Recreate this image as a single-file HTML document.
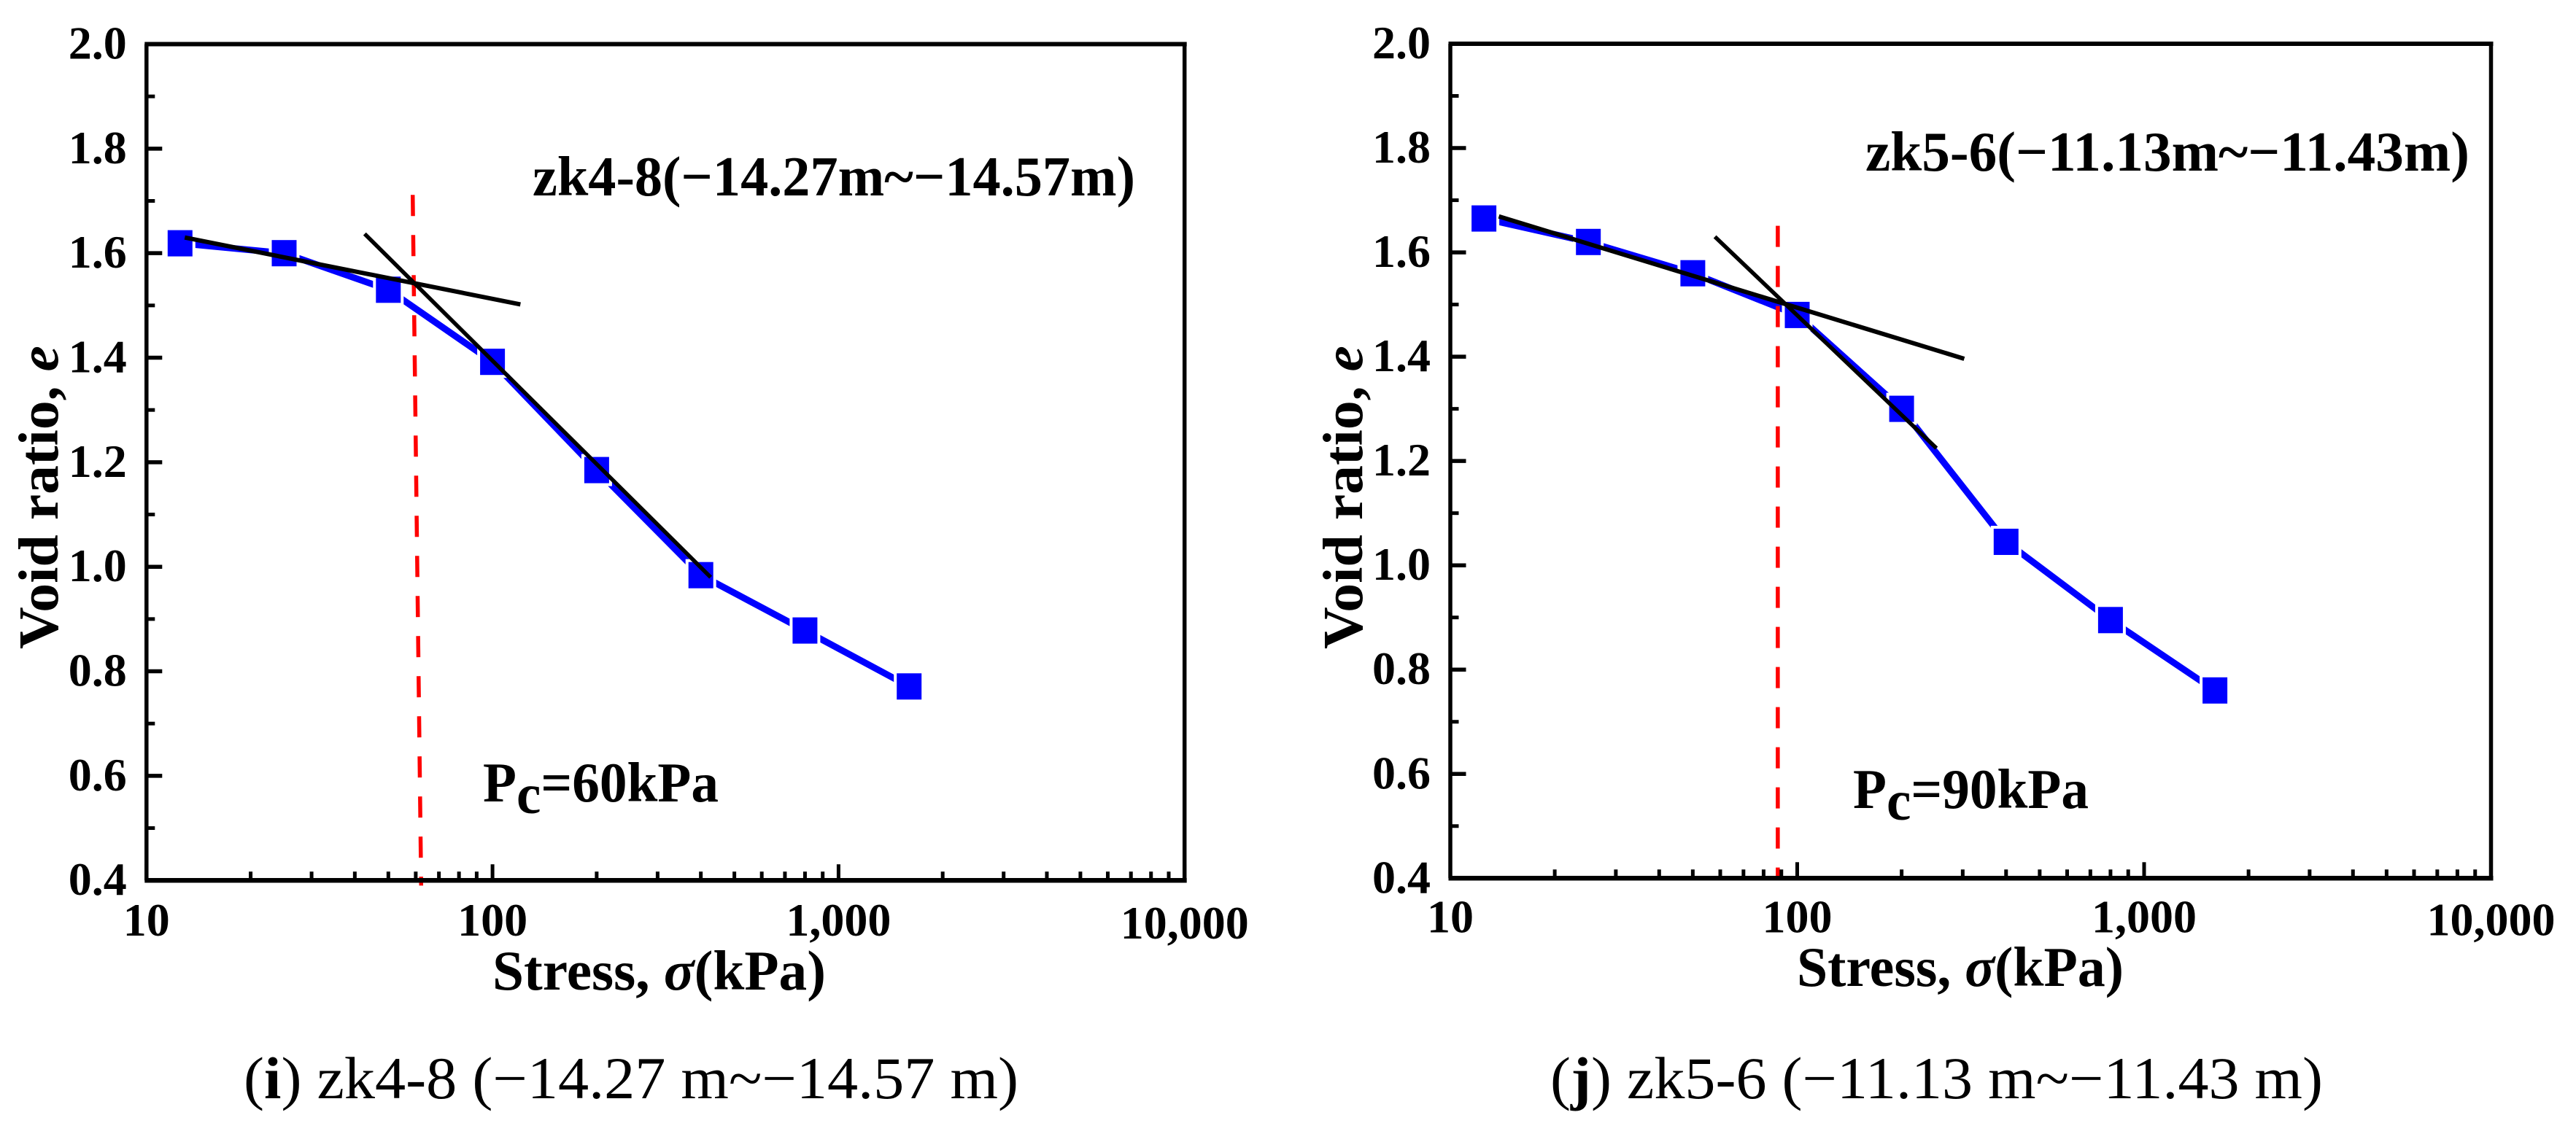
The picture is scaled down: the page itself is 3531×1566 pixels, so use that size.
<!DOCTYPE html>
<html lang="en">
<head>
<meta charset="utf-8">
<title>Void ratio versus stress curves</title>
<style>
  html, body { margin: 0; padding: 0; background: #fff; }
  svg { display: block; }
  text { font-family: "Liberation Serif", "Times New Roman", serif; fill: #000; }
  .tick { font-size: 64px; font-weight: bold; }
  .title { font-size: 77px; font-weight: bold; }
  .note { font-size: 77px; font-weight: bold; }
  .caption { font-size: 82px; }
</style>
</head>
<body>
<svg id="figure" xmlns="http://www.w3.org/2000/svg" width="3531" height="1566" viewBox="0 0 3531 1566">
  <rect x="0" y="0" width="3531" height="1566" fill="#fff"/>

  <g id="chart-i"></g>
  <g id="chart-j"></g>

  <text class="title" transform="translate(79,890) rotate(-90)" textLength="416" lengthAdjust="spacingAndGlyphs">Void ratio, <tspan font-style="italic">e</tspan></text>
  <text class="title" x="675" y="1357" textLength="457" lengthAdjust="spacingAndGlyphs">Stress, <tspan font-style="italic">σ</tspan>(kPa)</text>
  <text class="note" x="730" y="268" textLength="826" lengthAdjust="spacingAndGlyphs">zk4-8(−14.27m~−14.57m)</text>
  <text class="note" x="662" y="1099" textLength="323" lengthAdjust="spacingAndGlyphs">P<tspan dy="16">c</tspan><tspan dy="-16">=60kPa</tspan></text>
  <text class="caption" x="334" y="1506" textLength="1062" lengthAdjust="spacingAndGlyphs">(<tspan font-weight="bold">i</tspan>) zk4-8 (−14.27 m~−14.57 m)</text>

  <text class="title" transform="translate(1867,890) rotate(-90)" textLength="416" lengthAdjust="spacingAndGlyphs">Void ratio, <tspan font-style="italic">e</tspan></text>
  <text class="title" x="2463" y="1352" textLength="448" lengthAdjust="spacingAndGlyphs">Stress, <tspan font-style="italic">σ</tspan>(kPa)</text>
  <text class="note" x="2557" y="234" textLength="828" lengthAdjust="spacingAndGlyphs">zk5-6(−11.13m~−11.43m)</text>
  <text class="note" x="2540" y="1108" textLength="323" lengthAdjust="spacingAndGlyphs">P<tspan dy="16">c</tspan><tspan dy="-16">=90kPa</tspan></text>
  <text class="caption" x="2125" y="1506" textLength="1059" lengthAdjust="spacingAndGlyphs">(<tspan font-weight="bold">j</tspan>) zk5-6 (−11.13 m~−11.43 m)</text>
</svg>

<script>
// Shared axis data
const stressLevels = [12.5, 25, 50, 100, 200, 400, 800, 1600];
const xTickValues = [10, 100, 1000, 10000];
const xTickLabels = ['10', '100', '1,000', '10,000'];
const xMinorMultipliers = [2, 3, 4, 5, 6, 7, 8, 9];
const yTickValues = [0.4, 0.6, 0.8, 1.0, 1.2, 1.4, 1.6, 1.8, 2.0];
const yTickLabels = ['0.4', '0.6', '0.8', '1.0', '1.2', '1.4', '1.6', '1.8', '2.0'];
const yMinorValues = [0.5, 0.7, 0.9, 1.1, 1.3, 1.5, 1.7, 1.9];

// Chart (i) zk4-8
const voidRatioI = [1.619, 1.60, 1.53, 1.392, 1.185, 0.984, 0.878, 0.771];
const shallowStressI = [12.9, 120.4];
const shallowRatioI = [1.63, 1.502];
const steepStressI = [42.7, 427];
const steepRatioI = [1.637, 0.98];
const pcStressI = [58.8, 62.2];
const pcRatioI = [1.7115, 0.39];

// Chart (j) zk5-6
const voidRatioJ = [1.665, 1.62, 1.56, 1.48, 1.30, 1.045, 0.895, 0.76];
const shallowStressJ = [13.8, 303];
const shallowRatioJ = [1.669, 1.396];
const steepStressJ = [57.9, 252];
const steepRatioJ = [1.63, 1.2245];
const pcStressJ = [87.9, 87.9];
const pcRatioJ = [1.651, 0.4];

const SVG_NS = 'http://www.w3.org/2000/svg';

function make(parent, tag, attrs) {
  const el = document.createElementNS(SVG_NS, tag);
  for (const key in attrs) el.setAttribute(key, attrs[key]);
  parent.appendChild(el);
  return el;
}

function drawChart(opts) {
  const group = document.getElementById(opts.id);
  const left = opts.left, right = opts.right, top = opts.top, bottom = opts.bottom;
  const xScale = v => left + (Math.log10(v) - 1) * (right - left) / 3;
  const yScale = v => bottom - (v - 0.4) * (bottom - top) / 1.6;

  // Blue data line
  const linePts = stressLevels.map((s, i) => xScale(s).toFixed(1) + ',' + yScale(opts.ratio[i]).toFixed(1)).join(' ');
  const line = make(group, 'polyline', { points: linePts, fill: 'none', stroke: '#0000ff', 'stroke-width': 9 });
  
  

  // Square markers, with a white halo that opens the gap between line and symbol
  stressLevels.forEach((s, i) => {
    const cx = xScale(s), cy = yScale(opts.ratio[i]);
    const marker = make(group, 'rect', {
      x: (cx - 17).toFixed(1), y: (cy - 18).toFixed(1), width: 34, height: 36,
      fill: '#0000ff', stroke: '#fff', 'stroke-width': 8, 'paint-order': 'stroke'
    });
    
    
  });

  // Red dashed preconsolidation line
  const pc = make(group, 'line', {
    x1: xScale(opts.pcStress[0]), y1: yScale(opts.pcRatio[0]),
    x2: xScale(opts.pcStress[1]), y2: yScale(opts.pcRatio[1]),
    stroke: '#ff0000', 'stroke-width': 5.5, 'stroke-dasharray': '29 26'
  });
  
  

  // Frame
  const frameTop = make(group, 'line', { x1: left - 2.5, y1: top, x2: right + 3, y2: top, stroke: '#000', 'stroke-width': 6 });
  
  
  const frameBottom = make(group, 'line', { x1: left - 2.5, y1: bottom, x2: right + 3, y2: bottom, stroke: '#000', 'stroke-width': 6.5 });
  
  
  const frameLeft = make(group, 'line', { x1: left, y1: top, x2: left, y2: bottom, stroke: '#000', 'stroke-width': 5.5 });
  
  
  const frameRight = make(group, 'line', { x1: right, y1: top, x2: right, y2: bottom, stroke: '#000', 'stroke-width': 5.5 });
  
  

  // Black tangent lines
  const shallow = make(group, 'line', {
    x1: xScale(opts.shallowStress[0]), y1: yScale(opts.shallowRatio[0]),
    x2: xScale(opts.shallowStress[1]), y2: yScale(opts.shallowRatio[1]),
    stroke: '#000', 'stroke-width': 6
  });
  
  
  const steep = make(group, 'line', {
    x1: xScale(opts.steepStress[0]), y1: yScale(opts.steepRatio[0]),
    x2: xScale(opts.steepStress[1]), y2: yScale(opts.steepRatio[1]),
    stroke: '#000', 'stroke-width': 5.5
  });
  
  

  // X ticks
  xTickValues.forEach((v, i) => {
    const x = xScale(v);
    const tick = make(group, 'line', { x1: x, y1: bottom, x2: x, y2: bottom - 22, stroke: '#000', 'stroke-width': 5 });
    
    
    const extraDrop = i === xTickValues.length - 1 ? 4 : 0;
    const label = make(group, 'text', { x: x, y: bottom + opts.xLabelOffset + extraDrop, 'text-anchor': 'middle', class: 'tick' });
    label.textContent = xTickLabels[i];
    
    
    if (i < xTickValues.length - 1) {
      xMinorMultipliers.forEach(m => {
        const mx = xScale(v * m);
        const minor = make(group, 'line', { x1: mx, y1: bottom, x2: mx, y2: bottom - 12, stroke: '#000', 'stroke-width': 5 });
        
        
      });
    }
  });

  // Y ticks
  yTickValues.forEach((v, i) => {
    const y = yScale(v);
    const tick = make(group, 'line', { x1: left, y1: y, x2: left + 21.5, y2: y, stroke: '#000', 'stroke-width': 5.5 });
    
    
    const label = make(group, 'text', { x: left - 27, y: y + 20, 'text-anchor': 'end', class: 'tick' });
    label.textContent = yTickLabels[i];
    
    
  });
  yMinorValues.forEach(v => {
    const y = yScale(v);
    const minor = make(group, 'line', { x1: left, y1: y, x2: left + 11.5, y2: y, stroke: '#000', 'stroke-width': 5 });
    
    
  });
}

drawChart({
  id: 'chart-i', left: 200.8, right: 1623.7, top: 60.5, bottom: 1207.2, xLabelOffset: 76,
  ratio: voidRatioI,
  shallowStress: shallowStressI, shallowRatio: shallowRatioI,
  steepStress: steepStressI, steepRatio: steepRatioI,
  pcStress: pcStressI, pcRatio: pcRatioI
});
drawChart({
  id: 'chart-j', left: 1988, right: 3414.5, top: 60, bottom: 1204.3, xLabelOffset: 74,
  ratio: voidRatioJ,
  shallowStress: shallowStressJ, shallowRatio: shallowRatioJ,
  steepStress: steepStressJ, steepRatio: steepRatioJ,
  pcStress: pcStressJ, pcRatio: pcRatioJ
});
</script>
</body>
</html>
